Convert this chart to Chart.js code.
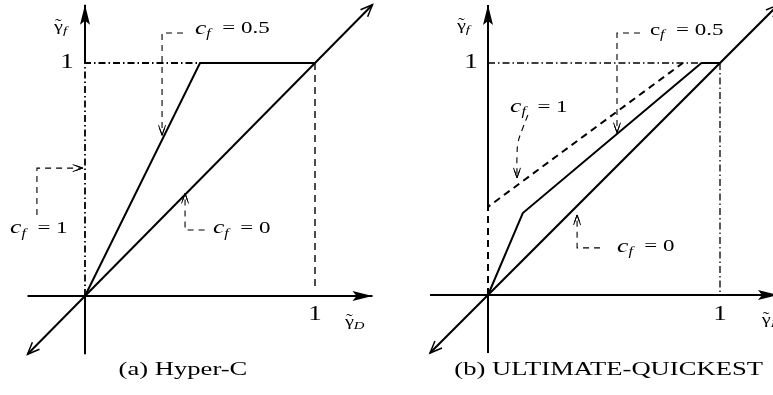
<!DOCTYPE html>
<html>
<head>
<meta charset="utf-8">
<script src="https://cdn.jsdelivr.net/npm/chart.js@4.4.0/dist/chart.umd.min.js"></script>
<style>
  html, body { margin: 0; padding: 0; background: #fff; }
  .wrap { position: relative; width: 773px; height: 395px; overflow: hidden; }
  canvas { position: absolute; top: 0; }
  #panelA { left: 0; }
  #panelB { left: 390px; }
</style>
</head>
<body>
<div class="wrap">
  <canvas id="panelA" width="390" height="395"></canvas>
  <canvas id="panelB" width="383" height="395"></canvas>
</div>
<script>
// axis extents (both panels)
const axisX = [-0.25, 1.25];
const axisZero = [0, 0];
const yAxisLowY = [-0.25, 0];
const tickOne = ['1'];
const tickValue = 1;

// (a) Hyper-C
const hcZeroX = [-0.25, 1.25];       // cf = 0 : downwind value
const hcZeroY = [-0.25, 1.25];
const hcHalfX = [0, 0.5, 1];         // cf = 0.5
const hcHalfY = [0, 1, 1];
const hcOneX = [0, 0, 0.5];          // cf = 1
const hcOneY = [0, 1, 1];
const hcUnitX = [1, 1];              // guide at gammaD = 1
const hcUnitY = [1, 0.04];
const hcAxisTopY = [1, 1.25];

// (b) ULTIMATE-QUICKEST
const uqZeroX = [-0.25, 1.25];
const uqZeroY = [-0.25, 1.25];
const uqHalfX = [0, 0.15, 0.92, 1];
const uqHalfY = [0, 0.353, 1, 1];
const uqOneX = [0, 0, 0.84];
const uqOneY = [0, 0.38, 1];
const uqGuideX = [0, 1, 1];
const uqGuideY = [1, 1, 0.01];
const uqAxisTopY = [0.38, 1.25];

const SERIF = '"Liberation Serif", serif';
const STRETCH = 1.35;

function pts(xs, ys) {
  return xs.map((x, i) => ({ x: x, y: ys[i] }));
}

function line(xs, ys, extra) {
  return Object.assign({
    data: pts(xs, ys),
    showLine: true,
    borderColor: '#000',
    borderWidth: 2,
    pointRadius: 0,
    tension: 0,
    fill: false
  }, extra || {});
}

const dashDot = [7, 3, 1.5, 3];
const dashed = [7, 5];
const leader = { borderWidth: 1.1, borderDash: [6, 5] };

function fontFor(p, size) {
  let s = size;
  if (p.sub) s = Math.round(size * 0.7);
  if (p.big) s = Math.round(size * 1.12);
  return (p.italic ? 'italic ' : '') + s + 'px ' + SERIF;
}

// draws a run of text pieces (plain, italic, subscript, tilde accent)
function drawRich(ctx, parts, px, py, size, align, stretch) {
  const sx = stretch || STRETCH;
  const widths = parts.map(p => { ctx.font = fontFor(p, size); return ctx.measureText(p.t).width; });
  const total = widths.reduce((a, b) => a + b, 0) * sx;
  const x0 = align === 'center' ? px - total / 2 : px;
  ctx.save();
  ctx.translate(x0, py);
  ctx.scale(sx, 1);
  ctx.fillStyle = '#000';
  ctx.textBaseline = 'middle';
  ctx.textAlign = 'left';
  let cx = 0;
  parts.forEach((p, i) => {
    ctx.font = fontFor(p, size);
    ctx.fillText(p.t, cx, p.sub ? size * 0.3 : 0);
    if (p.tilde) {
      const tw = ctx.measureText('\u02DC').width;
      ctx.fillText('\u02DC', cx + widths[i] / 2 - tw / 2, -size * 0.12);
    }
    cx += widths[i];
  });
  ctx.restore();
}

function arrowHead(ctx, x1, y1, x2, y2, kind) {
  const a = Math.atan2(y2 - y1, x2 - x1);
  ctx.save();
  ctx.translate(x2, y2);
  ctx.rotate(a);
  ctx.strokeStyle = '#000';
  ctx.fillStyle = '#000';
  ctx.setLineDash([]);
  if (kind === 'solid') {
    ctx.beginPath();
    ctx.moveTo(0, 0);
    ctx.lineTo(-20, -5);
    ctx.lineTo(-16, 0);
    ctx.lineTo(-20, 5);
    ctx.closePath();
    ctx.fill();
  } else if (kind === 'open') {
    ctx.lineWidth = 1.5;
    ctx.beginPath();
    ctx.moveTo(-12, -5);
    ctx.lineTo(0, 0);
    ctx.lineTo(-12, 5);
    ctx.stroke();
  } else {
    ctx.lineWidth = 1;
    ctx.beginPath();
    ctx.moveTo(-10, -3.5);
    ctx.lineTo(0, 0);
    ctx.lineTo(-10, 3.5);
    ctx.moveTo(-7, -2.5);
    ctx.lineTo(0, 0);
    ctx.lineTo(-7, 2.5);
    ctx.stroke();
  }
  ctx.restore();
}

const sketchPlugin = {
  id: 'sketch',
  afterDatasetsDraw(chart, args, opts) {
    const ctx = chart.ctx;
    const xs = chart.scales.x, ys = chart.scales.y;
    chart.data.datasets.forEach((ds, i) => {
      const el = chart.getDatasetMeta(i).data;
      const n = el.length;
      if (ds.arrowEnd) arrowHead(ctx, el[n - 2].x, el[n - 2].y, el[n - 1].x, el[n - 1].y, ds.arrowEnd);
      if (ds.arrowStart) arrowHead(ctx, el[1].x, el[1].y, el[0].x, el[0].y, ds.arrowStart);
    });
    (opts.labels || []).forEach(l => {
      drawRich(ctx, l.parts, xs.getPixelForValue(l.x), ys.getPixelForValue(l.y), l.size, l.align, l.stretch);
    });
  }
};

function cfLabel(val, upright) {
  return [
    { t: 'c', italic: !upright, big: !upright },
    { t: 'f', italic: true, sub: true },
    { t: '  = ' + val }
  ];
}

const gammaF = [{ t: '\u03B3', tilde: true }, { t: 'f', italic: true, sub: true }];
const gammaD = [{ t: '\u03B3', tilde: true }, { t: 'D', italic: true, sub: true }];

function makePanel(id, xRange, yRange, datasets, labels) {
  return new Chart(document.getElementById(id), {
    type: 'scatter',
    data: { datasets: datasets },
    options: {
      responsive: false,
      animation: false,
      devicePixelRatio: 1,
      layout: { padding: 0 },
      events: [],
      scales: {
        x: { type: 'linear', min: xRange[0], max: xRange[1], display: false },
        y: { type: 'linear', min: yRange[0], max: yRange[1], display: false }
      },
      plugins: {
        legend: { display: false },
        tooltip: { enabled: false },
        sketch: { labels: labels }
      }
    },
    plugins: [sketchPlugin]
  });
}

function drawAll() {
  // (a) Hyper-C
  makePanel('panelA', [-85 / 230, 305 / 230], [-99 / 233, 296 / 233], [
    line(axisX, axisZero, { arrowEnd: 'solid' }),
    line(axisZero, yAxisLowY),
    line(axisZero, hcAxisTopY, { arrowEnd: 'solid' }),
    line(hcOneX, hcOneY, { borderDash: dashDot, borderWidth: 1.8 }),
    line(hcUnitX, hcUnitY, { borderDash: dashed, borderWidth: 1.4 }),
    line(hcZeroX, hcZeroY, { arrowEnd: 'open', arrowStart: 'open' }),
    line(hcHalfX, hcHalfY),
    // leaders
    line([0.426, 0.335, 0.335], [1.129, 1.129, 0.69], Object.assign({ arrowEnd: 'lead' }, leader)),
    line([-0.209, -0.209, -0.01], [0.348, 0.549, 0.549], Object.assign({ arrowEnd: 'lead' }, leader)),
    line([0.52, 0.435, 0.435], [0.283, 0.283, 0.44], Object.assign({ arrowEnd: 'lead' }, leader))
  ], [
    { x: 0.478, y: 1.146, size: 17, parts: cfLabel('0.5') },
    { x: -0.326, y: 0.29, size: 17, parts: cfLabel('1') },
    { x: 0.556, y: 0.29, size: 17, parts: cfLabel('0') },
    { x: -0.135, y: 1.155, size: 15, parts: gammaF },
    { x: -0.078, y: tickValue, size: 20, parts: [{ t: tickOne[0] }], align: 'center' },
    { x: tickValue, y: -0.082, size: 20, parts: [{ t: tickOne[0] }], align: 'center' },
    { x: 1.13, y: -0.11, size: 15, parts: gammaD },
    { x: 0.426, y: -0.318, size: 19, parts: [{ t: '(a) Hyper-C' }], align: 'center', stretch: 1.4 }
  ]);

  // (b) ULTIMATE-QUICKEST
  makePanel('panelB', [-98 / 232, 285 / 232], [-100 / 232, 295 / 232], [
    line(axisX, axisZero, { arrowEnd: 'solid' }),
    line(axisZero, yAxisLowY),
    line(axisZero, uqAxisTopY, { arrowEnd: 'solid' }),
    line(uqGuideX, uqGuideY, { borderDash: dashDot, borderWidth: 1.3 }),
    line(uqOneX, uqOneY, { borderDash: dashed, borderWidth: 2 }),
    line(uqZeroX, uqZeroY, { arrowEnd: 'open', arrowStart: 'open' }),
    line(uqHalfX, uqHalfY),
    // leaders
    line([0.655, 0.556, 0.556], [1.129, 1.129, 0.70], Object.assign({ arrowEnd: 'lead' }, leader)),
    line([0.172, 0.15, 0.13, 0.125, 0.125], [0.776, 0.72, 0.66, 0.6, 0.505], Object.assign({ arrowEnd: 'lead', tension: 0.4 }, leader)),
    line([0.483, 0.384, 0.384], [0.203, 0.203, 0.345], Object.assign({ arrowEnd: 'lead' }, leader))
  ], [
    { x: 0.698, y: 1.142, size: 17, parts: cfLabel('0.5', true) },
    { x: 0.095, y: 0.81, size: 17, parts: cfLabel('1') },
    { x: 0.556, y: 0.207, size: 17, parts: cfLabel('0') },
    { x: -0.134, y: 1.16, size: 15, parts: gammaF },
    { x: -0.073, y: tickValue, size: 20, parts: [{ t: tickOne[0] }], align: 'center' },
    { x: tickValue, y: -0.086, size: 20, parts: [{ t: tickOne[0] }], align: 'center' },
    { x: 1.18, y: -0.108, size: 15, parts: gammaD },
    { x: 0.52, y: -0.323, size: 19, parts: [{ t: '(b) ULTIMATE-QUICKEST' }], align: 'center', stretch: 1.4 }
  ]);
}

// make sure the serif face is ready before the canvases paint text
Promise.all([
  document.fonts.load('17px "Liberation Serif"'),
  document.fonts.load('italic 17px "Liberation Serif"')
]).then(drawAll, drawAll);
</script>
</body>
</html>
